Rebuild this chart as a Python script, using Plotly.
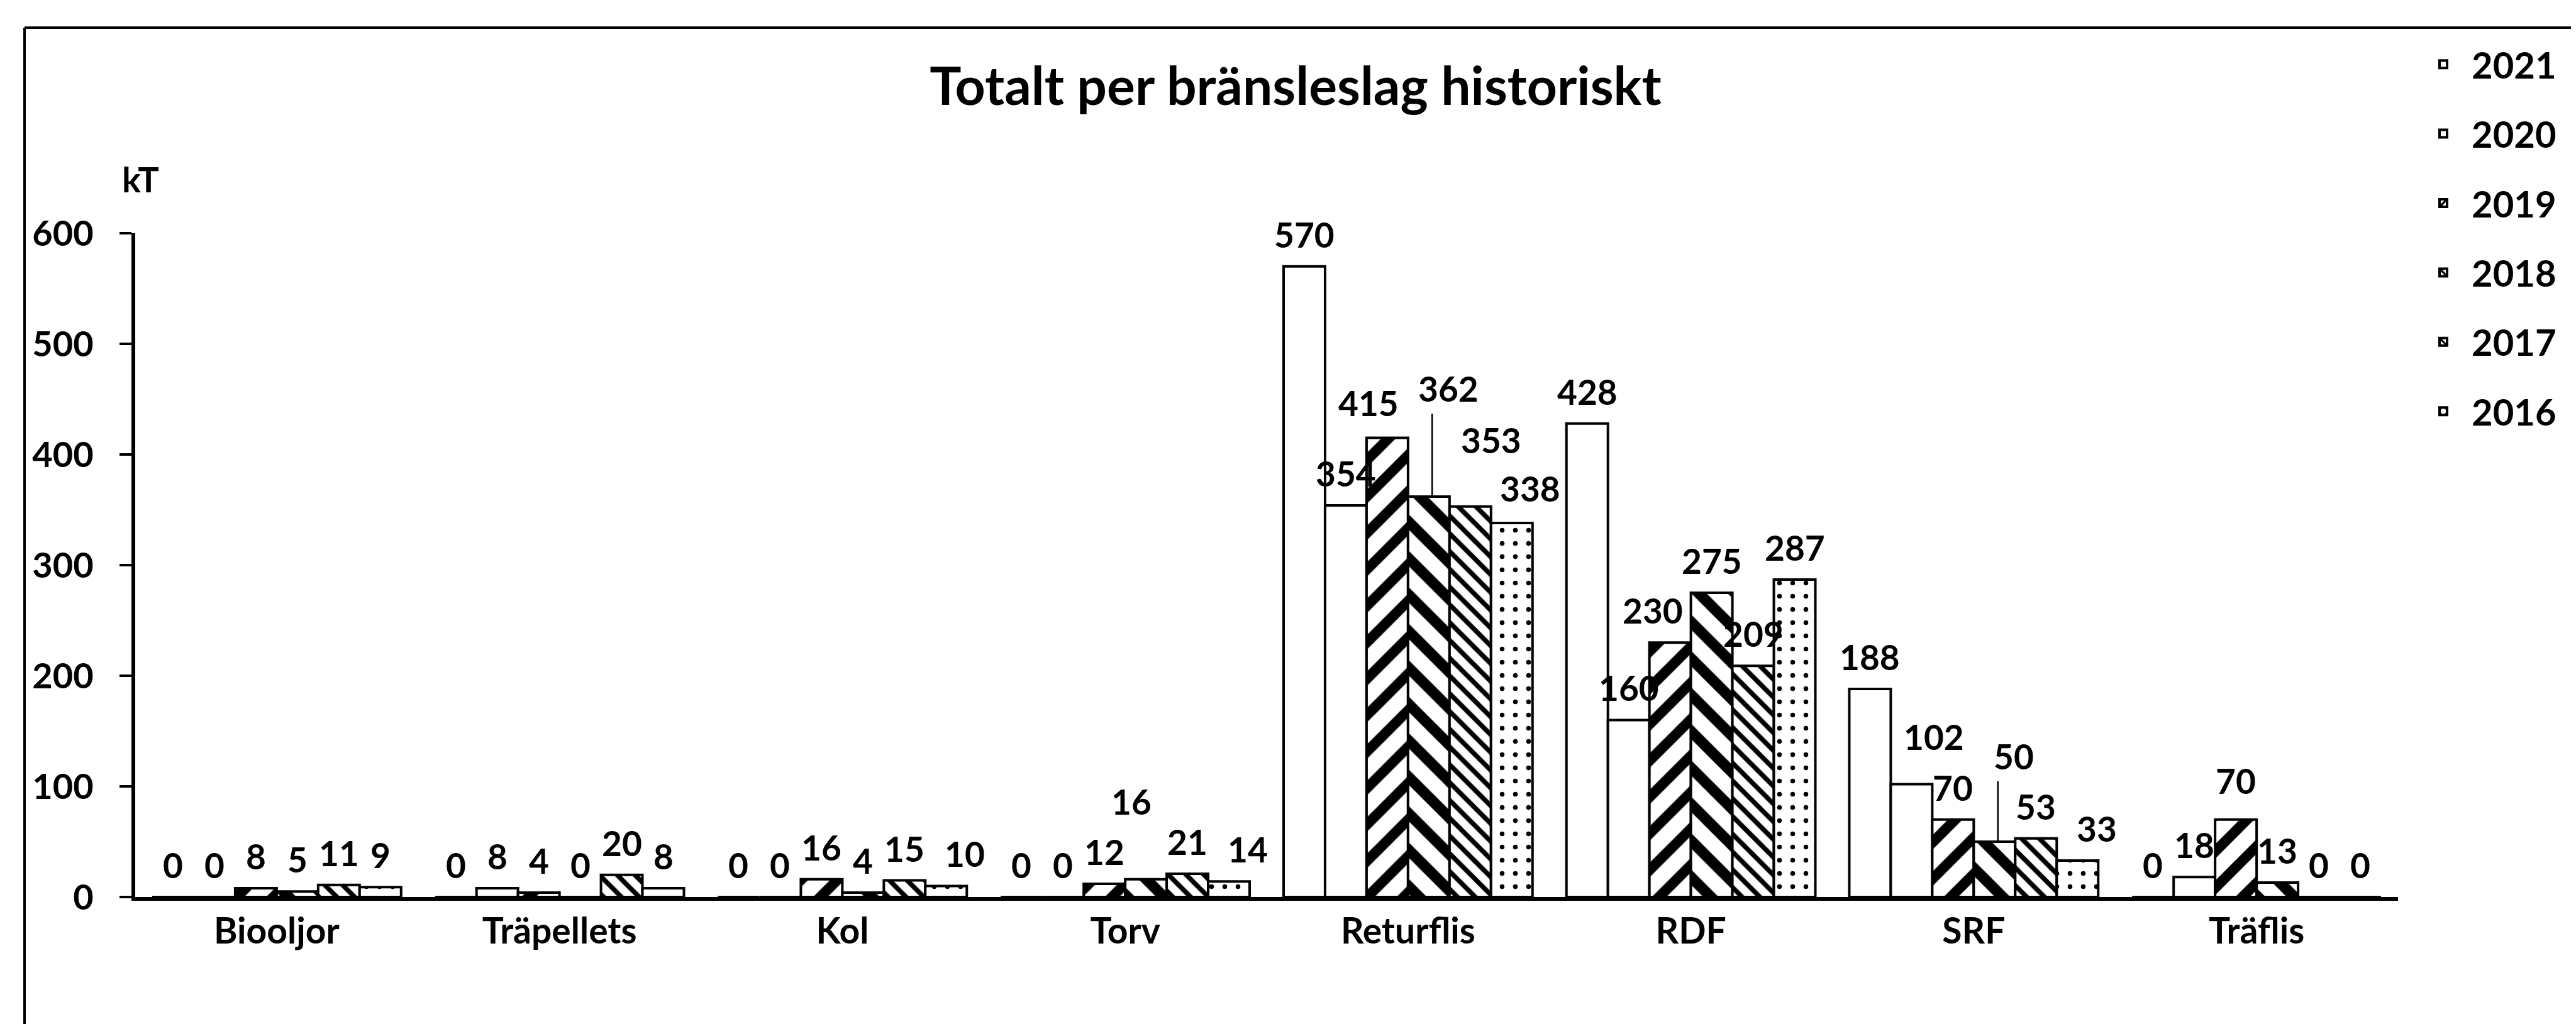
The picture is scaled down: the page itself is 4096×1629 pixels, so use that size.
import plotly.graph_objects as go

# ---------------- data ----------------
categories = ["Biooljor", "Träpellets", "Kol", "Torv", "Returflis", "RDF", "SRF", "Träflis"]
years = ["2021", "2020", "2019", "2018", "2017", "2016"]
v2021 = [0, 0, 0, 0, 570, 428, 188, 0]
v2020 = [0, 8, 0, 0, 354, 160, 102, 18]
v2019 = [8, 4, 16, 12, 415, 230, 70, 70]
v2018 = [5, 0, 4, 16, 362, 275, 50, 13]
v2017 = [11, 20, 15, 21, 353, 209, 53, 0]
v2016 = [9, 8, 10, 14, 338, 287, 33, 0]
series = [v2021, v2020, v2019, v2018, v2017, v2016]
title_text = "Totalt per bränsleslag historiskt"
unit_text = "kT"
y_ticks = [0, 100, 200, 300, 400, 500, 600]

# ---------------- styling ----------------
S = 0.845
W, H = 4096, 1629
L, R, T, B = 207, 291, 363, 210
BARGAP = 0.12
FONT = "Lato"

patterns = [
    dict(shape=""),
    dict(shape=""),
    dict(shape="/", size=41, solidity=0.40, fgcolor="black", bgcolor="white", fgopacity=1),
    dict(shape="\\", size=41, solidity=0.42, fgcolor="black", bgcolor="white", fgopacity=1),
    dict(shape="\\", size=20, solidity=0.38, fgcolor="black", bgcolor="white", fgopacity=1),
    dict(shape=".", size=21, solidity=0.10, fgcolor="black", bgcolor="white", fgopacity=1),
]

# manual label nudges (reference px: dx right, dy up) as in the original chart
nudges = {
    (3, 3): (-27, 86),
    (2, 5): (35, 0),
    (3, 5): (36, 0),
    (4, 2): (-35, 5),
    (4, 3): (37, 143),
    (4, 4): (39, 65),
    (4, 5): (35, 5),
    (5, 2): (-33, 0),
    (6, 1): (42, 29),
    (6, 3): (36, 101),
    (6, 5): (36, 0),
    (7, 2): (0, 13),
}
leaders = [(4, 3), (6, 3)]

fig = go.Figure()
xpos = list(range(len(categories)))
for i, (yr, vals) in enumerate(zip(years, series)):
    fig.add_trace(go.Bar(
        x=xpos, y=vals, name=yr, legendgroup=yr,
        marker=dict(color="white", line=dict(color="black", width=4), pattern=patterns[i]),
    ))

bw = (1 - BARGAP) / len(years)
annotations = []
shapes = []
base_shift = 51
for i, vals in enumerate(series):
    for j, v in enumerate(vals):
        xc = j - (1 - BARGAP) / 2 + bw * (i + 0.5)
        dx, dy = nudges.get((j, i), (0, 0))
        ys = base_shift + dy * S
        annotations.append(dict(
            x=xc, y=v, xref="x", yref="y", text=str(v), showarrow=False,
            xanchor="center", yanchor="middle", xshift=dx * S, yshift=ys,
            font=dict(family=FONT, size=55, color="black", weight="bold"),
        ))
        if (j, i) in leaders:
            shapes.append(dict(
                type="line", xref="x", yref="y", ysizemode="pixel", yanchor=v,
                x0=xc + 0.012, x1=xc + 0.012, y0=0, y1=ys - 40,
                line=dict(color="black", width=2.5),
            ))

pw = W - L - R
ph = H - T - B
def px_x(p):
    return (p - L) / pw
def px_y(p):
    return (H - B - p) / ph

annotations.append(dict(
    x=px_x(215), y=px_y(276), xref="paper", yref="paper", text=unit_text, showarrow=False,
    xanchor="center", yanchor="middle", font=dict(family=FONT, size=56, color="black", weight="bold"),
))

# outer frame (top and left edges visible in the original)
shapes.append(dict(type="line", xref="paper", yref="paper", x0=px_x(31), x1=px_x(4200),
                   y0=px_y(36), y1=px_y(36), line=dict(color="black", width=4)))
shapes.append(dict(type="line", xref="paper", yref="paper", x0=px_x(31), x1=px_x(31),
                   y0=px_y(36), y1=px_y(1700), line=dict(color="black", width=4)))

fig.update_layout(
    width=W, height=H,
    margin=dict(l=L, r=R, t=T, b=B),
    paper_bgcolor="white", plot_bgcolor="white",
    barmode="group", bargap=BARGAP, bargroupgap=0,
    title=dict(text=title_text, x=px_x(2052), xref="paper", xanchor="center",
               y=1 - 130 / H, yanchor="middle",
               font=dict(family=FONT, size=84, color="black", weight="bold")),
    xaxis=dict(
        range=[-0.5, len(categories) - 0.5], tickvals=xpos, ticktext=categories,
        showline=True, linecolor="black", linewidth=6, ticks="", showgrid=False, zeroline=False,
        tickfont=dict(family=FONT, size=57, color="black", weight="bold"), ticklabelstandoff=0,
    ),
    yaxis=dict(
        range=[0, 600], tickvals=y_ticks, showline=True, linecolor="black", linewidth=6,
        ticks="outside", ticklen=19, tickwidth=4, tickcolor="black", showgrid=False, zeroline=False,
        tickfont=dict(family=FONT, size=56, color="black", weight="bold"), ticklabelstandoff=30,
    ),
    legend=dict(
        x=px_x(3832), y=px_y(50), xanchor="left", yanchor="top",
        font=dict(family=FONT, size=58, color="black", weight="bold"),
        tracegroupgap=32, itemwidth=80, traceorder="grouped", bgcolor="rgba(0,0,0,0)",
    ),
    annotations=annotations,
    shapes=shapes,
)

fig.write_html("out.html")
